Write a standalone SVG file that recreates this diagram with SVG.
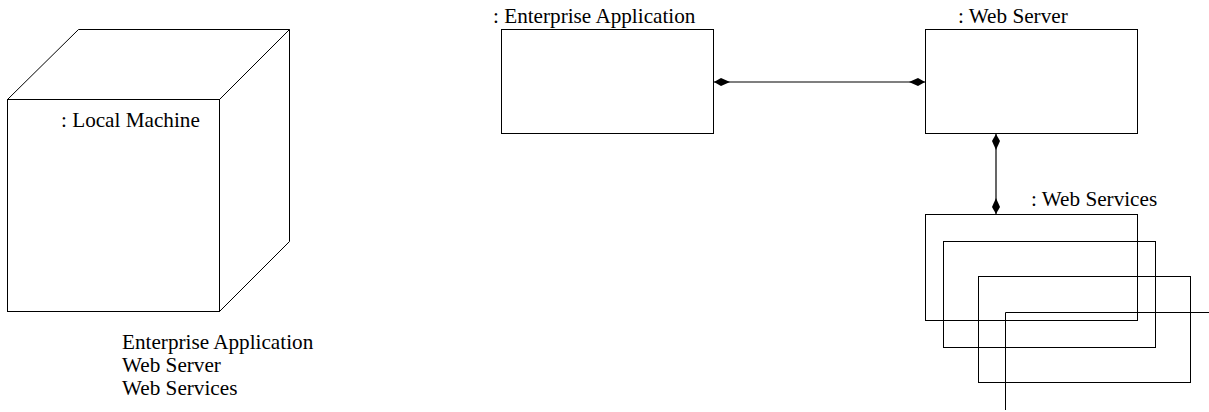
<svg xmlns="http://www.w3.org/2000/svg" width="1209" height="412" viewBox="0 0 1209 412">
  <style>
    .shape { fill: none; stroke: #000; stroke-width: 1; }
    .label { font-family: "Liberation Serif", "Times New Roman", serif; font-size: 21.2px; fill: #000; }
    .link { fill: none; stroke: #000; stroke-width: 1.2; }
  </style>
  <defs>
    <marker id="diamond" viewBox="0 0 17 10" refX="16" refY="5" markerWidth="17" markerHeight="10" markerUnits="userSpaceOnUse" orient="auto-start-reverse">
      <path d="M0,5 L9,1 L16,5 L9,9 Z" fill="#000"/>
    </marker>
  </defs>
  <rect width="1209" height="412" fill="#fff"/>

  <!-- Local machine node (3D box) -->
  <g id="local-machine">
    <rect class="shape" x="7.5" y="99.5" width="212" height="212"/>
    <path class="shape" d="M7.5,99.5 L78.5,29.5 L289.5,29.5 L219.5,99.5 M289.5,29.5 L289.5,241.5 L219.5,311.5"/>
    <text class="label" x="61" y="127">: Local Machine</text>
  </g>

  <!-- Deployed components list -->
  <g id="deployed-list">
    <text class="label" x="122" y="349">Enterprise Application</text>
    <text class="label" x="122" y="372">Web Server</text>
    <text class="label" x="122" y="395">Web Services</text>
  </g>

  <g id="enterprise-application">
    <text class="label" x="493" y="23">: Enterprise Application</text>
    <rect class="shape" x="501.5" y="29.5" width="212" height="104"/>
  </g>

  <g id="web-server">
    <text class="label" x="958" y="23">: Web Server</text>
    <rect class="shape" x="925.5" y="29.5" width="212" height="104"/>
  </g>

  <g id="web-services">
    <text class="label" x="1031" y="206">: Web Services</text>
    <rect class="shape" x="925.5" y="214.5" width="212" height="106"/>
    <rect class="shape" x="943.5" y="241.5" width="212" height="106"/>
    <rect class="shape" x="978.5" y="276.5" width="212" height="106"/>
    <path class="shape" d="M1005.5,410 L1005.5,312.5 L1209,312.5"/>
  </g>

  <!-- Connectors -->
  <g id="connectors">
    <line class="link" x1="714" y1="82" x2="925" y2="82" marker-start="url(#diamond)" marker-end="url(#diamond)"/>
    <line class="link" x1="996" y1="134" x2="996" y2="214" marker-start="url(#diamond)" marker-end="url(#diamond)"/>
  </g>
</svg>
